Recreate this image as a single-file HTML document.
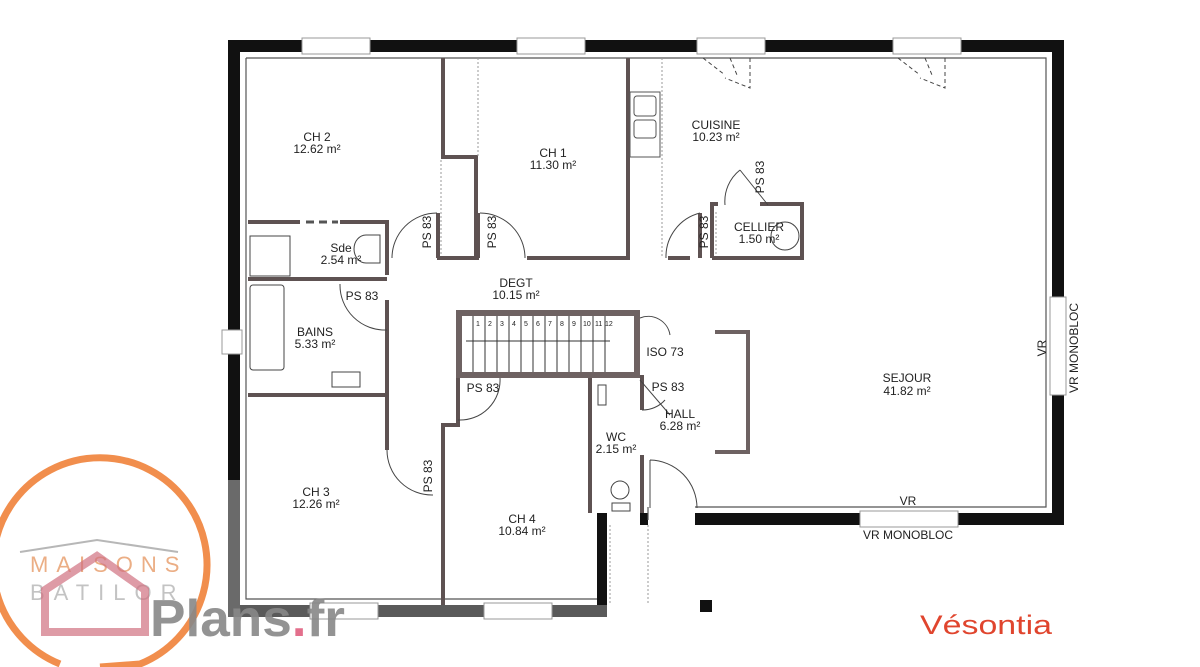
<!DOCTYPE html>
<html><head><meta charset="utf-8"><style>
html,body{margin:0;padding:0;background:#fff;}
svg{display:block;}
text{font-family:"Liberation Sans",Arial,sans-serif;fill:#222;}
.l{font-size:12px;text-anchor:middle;}
</style></head><body>
<svg width="1200" height="667" viewBox="0 0 1200 667" xmlns="http://www.w3.org/2000/svg">
<rect width="1200" height="667" fill="#fff"/>
<g fill="#111">
<rect x="228" y="40" width="836" height="12"/>
<rect x="228" y="40" width="12" height="577"/>
<rect x="1052" y="40" width="12" height="485"/>
<rect x="695" y="513" width="369" height="12"/>
<rect x="597" y="513" width="10" height="104"/>
<rect x="640" y="513" width="8" height="12"/>
<rect x="700" y="600" width="12" height="12"/>
</g>
<rect x="228" y="605" width="379" height="12" fill="#5a5a5a"/>
<rect x="228" y="480" width="12" height="137" fill="#6a6a6a"/>
<g fill="#fff" stroke="#999" stroke-width="1">
<rect x="302" y="38" width="68" height="16"/>
<rect x="517" y="38" width="68" height="16"/>
<rect x="697" y="38" width="68" height="16"/>
<rect x="893" y="38" width="68" height="16"/>
<rect x="310" y="603" width="68" height="16"/>
<rect x="484" y="603" width="68" height="16"/>
<rect x="1050" y="297" width="16" height="98"/>
<rect x="860" y="511" width="98" height="16"/>
<rect x="222" y="330" width="20" height="24"/>
</g>
<path d="M246 58 H1046 V507 H695 M648 507 V520 M246 58 V599 H597" fill="none" stroke="#555" stroke-width="1.2"/>
<g fill="none" stroke="#5e5252" stroke-width="4">
<path d="M443 58 V157 H476 V258"/>
<path d="M628 58 V258"/>
<path d="M437 258 H479 M527 258 H630 M668 258 H690"/>
<path d="M712 258 V204 H718 M760 204 H802 V258 H712"/>
<path d="M248 222 H300 M340 222 H387 V275"/>
<path d="M248 279 H387"/>
<path d="M387 300 V450"/>
<path d="M248 395 H387"/>
<path d="M458 378 V425 H443 V605"/>
<path d="M590 375 V513"/>
<path d="M642 375 V410 M642 455 V513"/>
<path d="M438 213 V258 M478 213 V258"/>
<path d="M700 213 V258"/>
</g>
<g stroke="#999" stroke-width="1" stroke-dasharray="2,2" fill="none">
<path d="M478 58 V157 M441 160 V256 M662 58 V256 M716 212 V255"/>
<path d="M610 525 V605 M648 525 V605"/>
<path d="M306 222 H338" stroke="#555" stroke-width="3" stroke-dasharray="8,5"/>
</g>
<g fill="none" stroke="#444" stroke-width="1">
<path d="M437 213 A45 45 0 0 0 392 258"/>
<path d="M480 213 A45 45 0 0 1 525 258"/>
<path d="M700 213 A45 45 0 0 0 666 258"/>
<path d="M740 170 A40 40 0 0 0 725 205 M740 170 L768 205"/>
<path d="M340 284 A45 45 0 0 0 387 330"/>
<path d="M500 378 A40 40 0 0 1 458 420"/>
<path d="M387 450 A45 45 0 0 0 433 495"/>
<path d="M640 380 L670 415 M642 410 A30 30 0 0 0 665 400"/>
<path d="M650 460 A48 48 0 0 1 697 508 M650 460 V508"/>
<path d="M640 318 A22 22 0 0 1 670 335"/>
<path d="M703 58 L725 75 M730 58 L737 75 M750 58 V88 L725 78" stroke-dasharray="4,3"/>
<path d="M898 58 L920 75 M925 58 L932 75 M945 58 V88 L920 78" stroke-dasharray="4,3"/>
</g>
<rect x="459" y="313" width="178" height="62" fill="none" stroke="#6e6262" stroke-width="6"/>
<g stroke="#333" stroke-width="1">
<path d="M473 316 V372 M485 316 V372 M497 316 V372 M509 316 V372 M521 316 V372 M533 316 V372 M545 316 V372 M557 316 V372 M569 316 V372 M581 316 V372 M593 316 V372 M605 316 V372"/>
<path d="M466 341 H610"/>
</g>
<g>
<text x="476" y="326" font-size="7">1</text><text x="488" y="326" font-size="7">2</text><text x="500" y="326" font-size="7">3</text><text x="512" y="326" font-size="7">4</text><text x="524" y="326" font-size="7">5</text><text x="536" y="326" font-size="7">6</text><text x="548" y="326" font-size="7">7</text><text x="560" y="326" font-size="7">8</text><text x="572" y="326" font-size="7">9</text><text x="583" y="326" font-size="7">10</text><text x="595" y="326" font-size="7">11</text><text x="605" y="326" font-size="7">12</text>
</g>
<path d="M715 332 H748 V452 H715" fill="none" stroke="#6e6262" stroke-width="4"/>
<rect x="630" y="92" width="30" height="65" fill="none" stroke="#555"/>
<rect x="634" y="96" width="22" height="20" rx="3" fill="none" stroke="#555"/>
<rect x="634" y="120" width="22" height="18" rx="3" fill="none" stroke="#555"/>
<rect x="250" y="236" width="40" height="40" fill="none" stroke="#444"/>
<rect x="250" y="285" width="34" height="85" rx="3" fill="none" stroke="#444"/>
<path d="M366 235 h14 v28 h-14 a12 14 0 0 1 0 -28z" fill="none" stroke="#444"/>
<path d="M332 372 h28 v15 h-28z" fill="none" stroke="#444"/>
<circle cx="620" cy="490" r="9" fill="none" stroke="#444"/>
<rect x="612" y="503" width="18" height="8" fill="none" stroke="#444"/>
<path d="M598 385 h8 v20 h-8z" fill="none" stroke="#444"/>
<circle cx="785" cy="236" r="14" fill="none" stroke="#444"/>
<text class="l" x="317" y="141">CH 2</text><text class="l" x="317" y="153">12.62 m²</text>
<text class="l" x="553" y="157">CH 1</text><text class="l" x="553" y="169">11.30 m²</text>
<text class="l" x="716" y="129">CUISINE</text><text class="l" x="716" y="141">10.23 m²</text>
<text class="l" x="759" y="231">CELLIER</text><text class="l" x="759" y="243">1.50 m²</text>
<text class="l" x="341" y="252">Sde</text><text class="l" x="341" y="264">2.54 m²</text>
<text class="l" x="516" y="287">DEGT</text><text class="l" x="516" y="299">10.15 m²</text>
<text class="l" x="315" y="336">BAINS</text><text class="l" x="315" y="348">5.33 m²</text>
<text class="l" x="907" y="382">SEJOUR</text><text class="l" x="907" y="395">41.82 m²</text>
<text class="l" x="680" y="418">HALL</text><text class="l" x="680" y="430">6.28 m²</text>
<text class="l" x="616" y="441">WC</text><text class="l" x="616" y="453">2.15 m²</text>
<text class="l" x="316" y="496">CH 3</text><text class="l" x="316" y="508">12.26 m²</text>
<text class="l" x="522" y="523">CH 4</text><text class="l" x="522" y="535">10.84 m²</text>
<text class="l" x="362" y="300">PS 83</text>
<text class="l" x="483" y="392">PS 83</text>
<text class="l" x="668" y="391">PS 83</text>
<text class="l" x="665" y="356">ISO 73</text>
<text class="l" x="908" y="505">VR</text>
<text class="l" x="908" y="539">VR MONOBLOC</text>
<text class="l" transform="translate(431,232) rotate(-90)">PS 83</text>
<text class="l" transform="translate(496,232) rotate(-90)">PS 83</text>
<text class="l" transform="translate(708,232) rotate(-90)">PS 83</text>
<text class="l" transform="translate(764,177) rotate(-90)">PS 83</text>
<text class="l" transform="translate(432,476) rotate(-90)">PS 83</text>
<text class="l" transform="translate(1046,348) rotate(-90)">VR</text>
<text class="l" transform="translate(1078,348) rotate(-90)">VR MONOBLOC</text>
<path d="M60 664 A107 107 0 1 1 140 664 L100 667" fill="none" stroke="#ee7a2e" stroke-width="7" opacity="0.85"/>
<path d="M20 552 L97 540 L178 552" fill="none" stroke="#999" stroke-width="2" opacity="0.7"/>
<text x="30" y="572" font-size="22" style="fill:#e8a070;letter-spacing:8px" opacity="0.85">MAISONS</text>
<text x="30" y="600" font-size="22" style="fill:#aaa;letter-spacing:9px" opacity="0.7">BATILOR</text>
<path d="M45 590 L97 556 L145 590 V632 H45 Z" fill="none" stroke="#d07080" stroke-width="8" opacity="0.7"/>
<text x="150" y="636" font-size="52" font-weight="bold" style="fill:#888" opacity="0.9" textLength="195" lengthAdjust="spacingAndGlyphs">Plans<tspan style="fill:#e06080">.</tspan>fr</text>
<text x="920" y="634" font-size="27" style="fill:#e0452e" textLength="132" lengthAdjust="spacingAndGlyphs">Vésontia</text>
</svg>
</body></html>
